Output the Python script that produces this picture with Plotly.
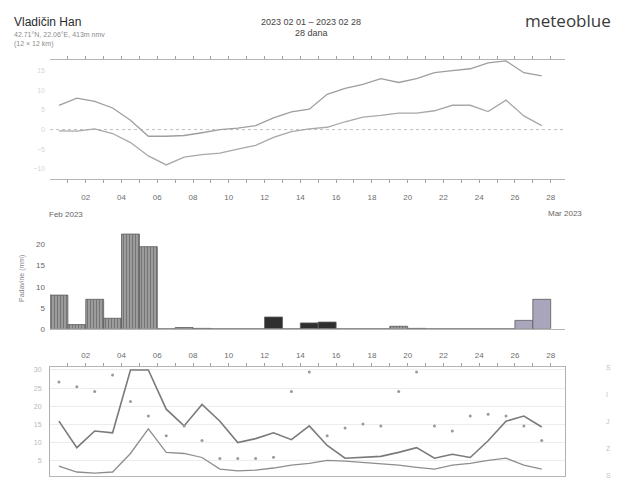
import plotly.graph_objects as go

# ---- data -------------------------------------------------------------
days = list(range(1, 29))
day_labels = [f"{d:02d}" for d in days]

# daily temperature (°C)
temp_max = [6.2, 8.0, 7.2, 5.5, 2.4, -1.7, -1.7, -1.5, -0.8, 0.0, 0.4, 1.0, 3.0, 4.5,
            5.2, 9.0, 10.5, 11.5, 13.0, 12.0, 13.0, 14.5, 15.0, 15.5, 17.0, 17.5, 14.5, 13.7]
temp_min = [-0.3, -0.4, 0.2, -1.0, -3.3, -6.7, -9.0, -7.0, -6.4, -6.0, -5.0, -4.0, -2.0, -0.5,
            0.2, 0.6, 2.0, 3.2, 3.6, 4.2, 4.2, 4.8, 6.2, 6.2, 4.6, 7.5, 3.5, 1.0]

# daily precipitation (mm) and its kind
precip = [8.0, 1.0, 7.0, 2.5, 22.5, 19.5, 0.0, 0.3, 0.1, 0.0, 0.0, 0.0, 2.8, 0.0,
          1.4, 1.6, 0.0, 0.0, 0.0, 0.6, 0.1, 0.0, 0.0, 0.0, 0.0, 0.0, 2.0, 7.0]
precip_kind = ["kiša"] * 12 + ["sneg", "kiša", "sneg", "sneg"] + ["kiša"] * 10 + ["susnežica"] * 2

# daily wind (km/h) and direction (°)
wind_max = [15.9, 8.6, 13.2, 12.7, 30.0, 30.0, 19.2, 14.6, 20.5, 15.9, 10.0, 11.1, 12.7, 10.8,
            14.6, 9.2, 5.7, 5.9, 6.2, 7.3, 8.6, 5.7, 6.8, 5.9, 10.5, 15.9, 17.3, 14.3]
wind_mean = [3.5, 1.9, 1.6, 1.9, 7.0, 13.8, 7.3, 7.0, 5.9, 2.7, 2.2, 2.4, 3.0, 3.8,
             4.3, 5.1, 4.9, 4.6, 4.3, 3.8, 3.2, 2.7, 3.8, 4.3, 5.1, 5.7, 3.8, 2.7]
wind_dir = [311, 295, 279, 334, 246, 198, 133, 165, 117, 58, 58, 58, 62, 279,
            344, 133, 159, 172, 165, 279, 344, 165, 149, 198, 204, 198, 165, 117]

temp_ticks = [-10, -5, 0, 5, 10, 15]
precip_ticks = [0, 5, 10, 15, 20]
wind_ticks = [5, 10, 15, 20, 25, 30]

# ---- styling ----------------------------------------------------------
FONT = "Liberation Sans"
kind_color = {"kiša": "#9c9c9c", "sneg": "#2f2f2f", "susnežica": "#a9a5bd"}
kind_pattern = {"kiša": "|", "sneg": "", "susnežica": ""}

x_mid = [d - 0.5 for d in days]
x_range = [0, 28.8]
x_dom = [50 / 618, 565 / 618]

fig = go.Figure()

# temperature panel
fig.add_trace(go.Scatter(x=x_mid, y=temp_max, mode="lines", xaxis="x", yaxis="y",
                         line=dict(color="#9e9e9e", width=1.3), showlegend=False))
fig.add_trace(go.Scatter(x=x_mid, y=temp_min, mode="lines", xaxis="x", yaxis="y",
                         line=dict(color="#a8a8a8", width=1.3), showlegend=False))

# precipitation panel
fig.add_trace(go.Bar(
    x=x_mid, y=precip, width=1.0, xaxis="x2", yaxis="y2", showlegend=False,
    marker=dict(color=[kind_color[k] for k in precip_kind],
                line=dict(color="#5a5a5a", width=0.8),
                pattern=dict(shape=[kind_pattern[k] for k in precip_kind],
                             fillmode="overlay", fgcolor="#5e5e5e", size=3, solidity=0.3)),
))

# wind panel
fig.add_trace(go.Scatter(x=x_mid, y=wind_max, mode="lines", xaxis="x3", yaxis="y3",
                         line=dict(color="#7a7a7a", width=1.6), showlegend=False))
fig.add_trace(go.Scatter(x=x_mid, y=wind_mean, mode="lines", xaxis="x3", yaxis="y3",
                         line=dict(color="#8e8e8e", width=1.3), showlegend=False))
fig.add_trace(go.Scatter(x=x_mid, y=wind_dir, mode="markers", xaxis="x3", yaxis="y4",
                         marker=dict(color="#9a9a9a", size=3), showlegend=False))

day_ticktext = [lab if d % 2 == 0 else "" for d, lab in zip(days, day_labels)]
tick_font = dict(family=FONT, size=8, color="#6e6e6e")

common_x = dict(range=x_range, domain=x_dom, tickvals=days, ticktext=day_ticktext,
                showgrid=False, zeroline=False, tickfont=tick_font,
                linecolor="#b5b5b5", tickcolor="#a0a0a0")

fig.update_layout(
    width=618, height=481,
    margin=dict(l=0, r=0, t=0, b=0),
    paper_bgcolor="white", plot_bgcolor="white",
    font=dict(family=FONT, color="#555"),
    xaxis=dict(**common_x, anchor="y", showline=True, mirror="ticks",
               ticks="outside", ticklen=3, ticklabelstandoff=8),
    yaxis=dict(domain=[1 - 178 / 481, 1 - 57 / 481], range=[-12.5, 17.75],
               tickvals=temp_ticks, showgrid=False, zeroline=False,
               tickfont=dict(family=FONT, size=7, color="#d6d6d6"),
               showline=False, ticks="", ticklabelstandoff=4),
    xaxis2=dict(**common_x, anchor="y2", showline=True, showticklabels=False,
                ticks=""),
    yaxis2=dict(domain=[1 - 331 / 481, 1 - 228 / 481], range=[0, 24],
                tickvals=precip_ticks, showgrid=False, zeroline=False,
                tickfont=dict(family=FONT, size=8, color="#666"),
                ticks="", ticklabelstandoff=4,
                title=dict(text="Padavine (mm)", standoff=10,
                           font=dict(family=FONT, size=7, color="#888"))),
    xaxis3=dict(**common_x, anchor="y3", side="top", showline=True, mirror=True,
                ticks="outside", ticklen=3, ticklabelstandoff=2),
    yaxis3=dict(domain=[0, 1 - 370 / 481], range=[0.8, 30.8], tickvals=wind_ticks,
                showgrid=True, gridcolor="#ececec", zeroline=False, showline=True,
                linecolor="#b0b0b0", mirror=True,
                tickfont=dict(family=FONT, size=7, color="#b8b8b8"),
                ticks="", ticklabelstandoff=6),
    yaxis4=dict(overlaying="y3", side="right", range=[0, 360],
                tickvals=[0, 90, 180, 270, 360], ticktext=["S", "Z", "J", "I", "S"],
                showgrid=False, zeroline=False,
                tickfont=dict(family=FONT, size=7, color="#c4c4c4"),
                ticks="", ticklabelstandoff=40),
    xaxis4=dict(overlaying="x", anchor="free", position=1 - 205 / 481,
                range=x_range, domain=x_dom, showline=True, linecolor="#bdbdbd",
                tickvals=[0.95, 28.8], ticks="outside", ticklen=3, tickcolor="#999",
                showticklabels=False, showgrid=False, zeroline=False),
)

# dotted freezing line across the temperature panel
fig.add_shape(type="line", xref="x", yref="y", x0=x_range[0], x1=x_range[1], y0=0, y1=0,
              line=dict(color="#bdbdbd", width=1, dash="dot"), layer="below")

# header and month labels
anns = [
    dict(text="Vladičin Han", x=12 / 618, y=1 - 18 / 481, xanchor="left", yanchor="middle",
         font=dict(family=FONT, size=12, color="#2a2a2a")),
    dict(text="42.71°N, 22.06°E, 413m nmv", x=12 / 618, y=1 - 31 / 481, xanchor="left",
         yanchor="middle", font=dict(family=FONT, size=7, color="#8c8c8c")),
    dict(text="(12 × 12 km)", x=12 / 618, y=1 - 41 / 481, xanchor="left",
         yanchor="middle", font=dict(family=FONT, size=7, color="#8c8c8c")),
    dict(text="2023 02 01 – 2023 02 28", x=311 / 618, y=1 - 18 / 481, xanchor="center",
         yanchor="middle", font=dict(family=FONT, size=9, color="#444")),
    dict(text="28 dana", x=311 / 618, y=1 - 30 / 481, xanchor="center",
         yanchor="middle", font=dict(family=FONT, size=9, color="#444")),
    dict(text="meteoblue", x=613 / 618, y=1 - 17 / 481, xanchor="right",
         yanchor="middle", font=dict(family="Open Sans", size=17, color="#3a3a3a")),
    dict(text="Feb 2023", x=47 / 618, y=1 - 215 / 481, xanchor="left",
         yanchor="middle", font=dict(family=FONT, size=8, color="#666")),
    dict(text="Mar 2023", x=584 / 618, y=1 - 214 / 481, xanchor="right",
         yanchor="middle", font=dict(family=FONT, size=8, color="#666")),
]
for a in anns:
    fig.add_annotation(xref="paper", yref="paper", showarrow=False, **a)

fig.write_html("out.html")
